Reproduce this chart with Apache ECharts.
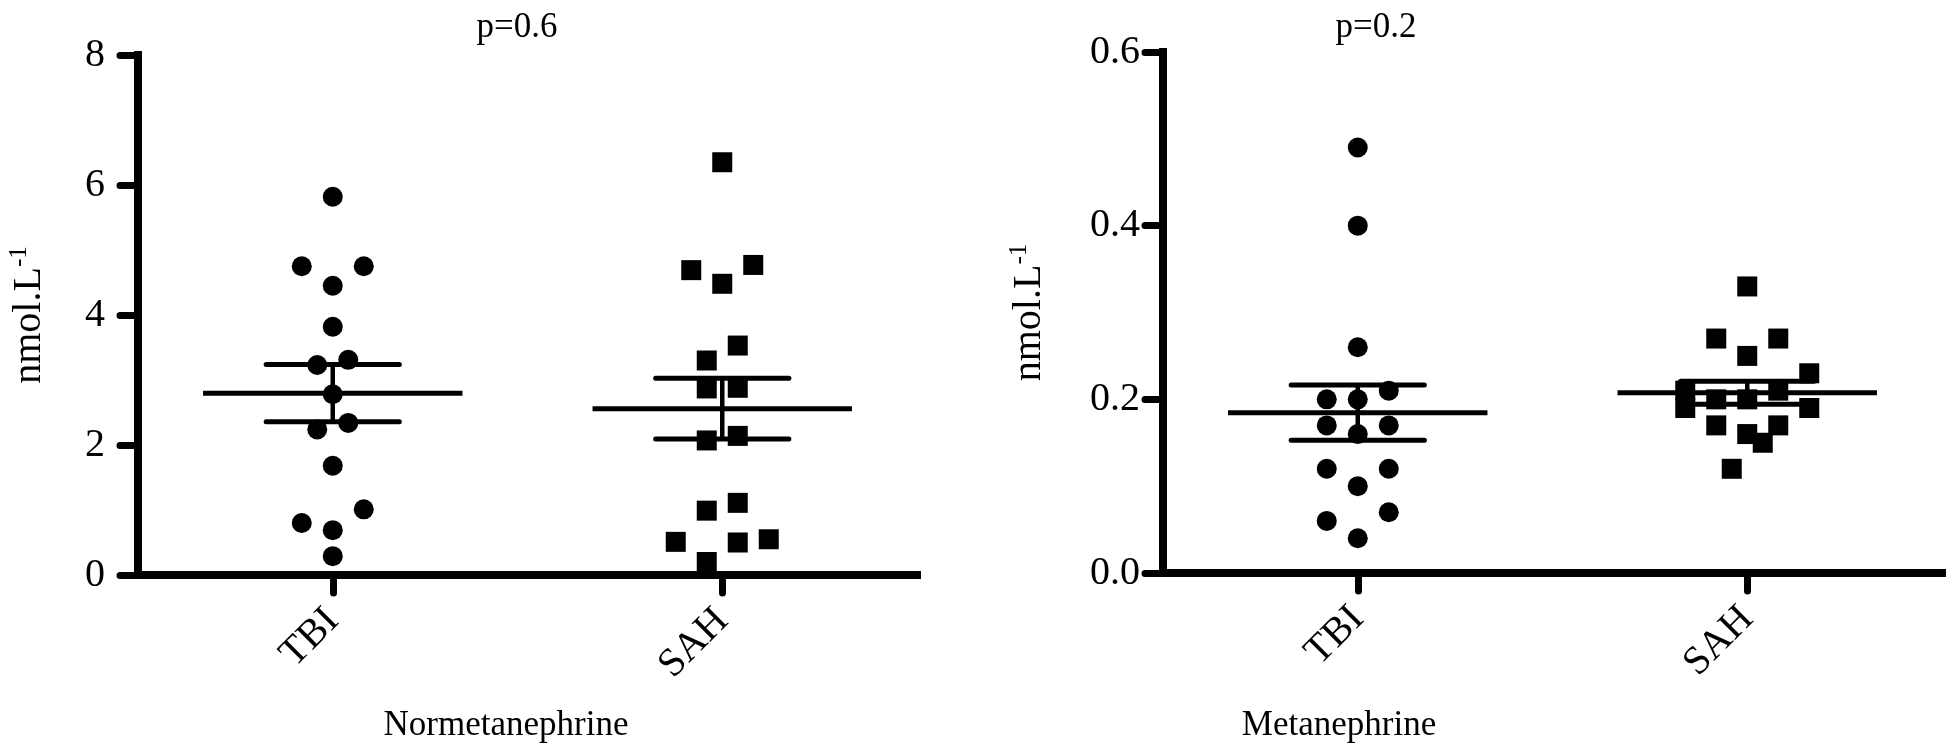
<!DOCTYPE html>
<html>
<head>
<meta charset="utf-8">
<script src="https://cdn.jsdelivr.net/npm/echarts@6/dist/echarts.min.js"></script>
<style>
html,body{margin:0;padding:0;background:#fff;}
#chart{width:1946px;height:752px;}
</style>
</head>
<body>
<div id="chart"></div>
<script>
// ---------- data ----------
const groups = ['TBI', 'SAH'];
const normetanephrineTBI = [5.82, 4.75, 4.75, 4.45, 3.82, 3.31, 3.23, 2.78, 2.34, 2.24, 1.68, 1.01, 0.80, 0.69, 0.29];
const normetanephrineSAH = [6.35, 4.77, 4.69, 4.48, 3.53, 3.30, 2.88, 2.87, 2.14, 2.07, 1.11, 0.99, 0.55, 0.51, 0.50, 0.20];
const metanephrineTBI = [0.49, 0.40, 0.26, 0.21, 0.20, 0.20, 0.17, 0.17, 0.16, 0.12, 0.12, 0.10, 0.07, 0.06, 0.04];
const metanephrineSAH = [0.33, 0.27, 0.27, 0.25, 0.23, 0.21, 0.21, 0.20, 0.20, 0.19, 0.19, 0.17, 0.17, 0.16, 0.15, 0.12];
const normAxisMax = 8, normAxisStep = 2;
const metaAxisMax = 0.6, metaAxisStep = 0.2;
const pValues = ['p=0.6', 'p=0.2'];
const panelNames = ['Normetanephrine', 'Metanephrine'];
const unitLabel = 'nmol.L';
const unitExp = '-1';

// ---------- helpers ----------
const FONT = "'Liberation Serif', 'Times New Roman', serif";
const SYM = 20;

function stats(v) {
  const n = v.length;
  const m = v.reduce((a, b) => a + b, 0) / n;
  const sd = Math.sqrt(v.reduce((a, b) => a + (b - m) * (b - m), 0) / (n - 1));
  const se = sd / Math.sqrt(n);
  return [m, m - se, m + se];
}

// Prism-like column scatter: group nearby values into rows and spread each row symmetrically
function swarmOffsets(values, pxPerUnit) {
  const order = values.map((v, i) => i).sort((a, b) => values[b] - values[a]);
  const off = new Array(values.length).fill(0);
  const rowH = SYM * 1.35, step = SYM * 1.55;
  let i = 0;
  while (i < order.length) {
    const start = values[order[i]] * pxPerUnit;
    let j = i;
    while (j < order.length && start - values[order[j]] * pxPerUnit <= rowH + 1e-6) j++;
    const row = order.slice(i, j).sort((a, b) => values[a] - values[b]);
    const n = row.length;
    const slots = [];
    for (let k = 0; k < n; k++) slots.push(k - (n - 1) / 2);
    slots.sort((a, b) => Math.abs(a) - Math.abs(b) || a - b);
    row.forEach((r, k) => { off[r] = slots[k] * step; });
    i = j;
  }
  return off;
}

const grids = [
  { left: 138, right: 1946 - 917, top: 55, bottom: 752 - 575 },
  { left: 1163, right: 1946 - 1942, top: 52, bottom: 752 - 573 }
];
const panels = [
  { tbi: normetanephrineTBI, sah: normetanephrineSAH, max: normAxisMax, step: normAxisStep, dec: 0,
    labelMargin: 33, nameGap: 87, titleX: 512, nameX: 501 },
  { tbi: metanephrineTBI, sah: metanephrineSAH, max: metaAxisMax, step: metaAxisStep, dec: 1,
    labelMargin: 23, nameGap: 112, titleX: 1371, nameX: 1334 }
];

const xAxes = [], yAxes = [], series = [], titles = [];
panels.forEach((p, g) => {
  const gridH = 752 - grids[g].top - grids[g].bottom;
  const pxPerUnit = gridH / p.max;

  xAxes.push({
    type: 'category', gridIndex: g, data: groups, boundaryGap: true,
    axisLine: { show: true, lineStyle: { color: '#000', width: 8, cap: 'square' } },
    axisTick: { show: true, alignWithLabel: true, length: 18, interval: 0, lineStyle: { color: '#000', width: 7, cap: 'round' } },
    axisLabel: { rotate: 45, interval: 0, margin: 40, fontSize: 40, fontFamily: FONT, color: '#000' },
    splitLine: { show: false }
  });
  yAxes.push({
    type: 'value', gridIndex: g, min: 0, max: p.max, interval: p.step,
    axisLine: { show: true, lineStyle: { color: '#000', width: 8, cap: 'square' } },
    axisTick: { show: true, length: 18, lineStyle: { color: '#000', width: 7, cap: 'round' } },
    axisLabel: { margin: p.labelMargin, fontSize: 40, fontFamily: FONT, color: '#000',
      formatter: v => v.toFixed(p.dec) },
    splitLine: { show: false },
    name: '{a|' + unitLabel + '}{b|' + unitExp + '}',
    nameLocation: 'middle', nameRotate: 90, nameGap: p.nameGap,
    nameTextStyle: {
      rich: {
        a: { fontSize: 40, fontFamily: FONT, color: '#000', lineHeight: 44 },
        b: { fontSize: 25, fontFamily: FONT, color: '#000', verticalAlign: 'top', lineHeight: 44 }
      }
    }
  });

  [p.tbi, p.sah].forEach((vals, ci) => {
    const offs = swarmOffsets(vals, pxPerUnit);
    series.push({
      type: 'scatter', xAxisIndex: g, yAxisIndex: g,
      symbol: ci === 0 ? 'circle' : 'rect', symbolSize: SYM,
      itemStyle: { color: '#000', opacity: 1 },
      silent: true,
      data: vals.map((v, i) => ({ value: [ci, v], symbolOffset: [offs[i], 0] }))
    });
  });

  series.push({
    type: 'custom', xAxisIndex: g, yAxisIndex: g, silent: true, z: 5,
    data: [p.tbi, p.sah].map((vals, ci) => [ci].concat(stats(vals))),
    encode: { x: 0, y: 1 },
    renderItem: (params, api) => {
      const c = api.value(0);
      const pm = api.coord([c, api.value(1)]);
      const plo = api.coord([c, api.value(2)]);
      const phi = api.coord([c, api.value(3)]);
      const band = api.size([1, 0])[0];
      const mh = band * 0.333, ch = band * 0.171;
      const st = { stroke: '#000', lineWidth: 5, lineCap: 'round' };
      return {
        type: 'group',
        children: [
          { type: 'line', shape: { x1: pm[0] - mh, y1: pm[1], x2: pm[0] + mh, y2: pm[1] }, style: { stroke: '#000', lineWidth: 5, lineCap: 'butt' } },
          { type: 'line', shape: { x1: plo[0] - ch, y1: plo[1], x2: plo[0] + ch, y2: plo[1] }, style: st },
          { type: 'line', shape: { x1: phi[0] - ch, y1: phi[1], x2: phi[0] + ch, y2: phi[1] }, style: st },
          { type: 'line', shape: { x1: pm[0], y1: plo[1], x2: pm[0], y2: phi[1] }, style: { stroke: '#000', lineWidth: 4.5 } }
        ]
      };
    }
  });

  titles.push({
    text: pValues[g], left: p.titleX, top: 5, textAlign: 'center',
    textStyle: { fontSize: 35, fontFamily: FONT, color: '#000', fontWeight: 'normal' }
  });
  titles.push({
    text: panelNames[g], left: p.nameX, top: 703, textAlign: 'center',
    textStyle: { fontSize: 35, fontFamily: FONT, color: '#000', fontWeight: 'normal' }
  });
});

const chart = echarts.init(document.getElementById('chart'), null, { renderer: 'canvas' });
chart.setOption({
  backgroundColor: '#fff',
  animation: false,
  title: titles,
  grid: grids,
  xAxis: xAxes,
  yAxis: yAxes,
  series: series
});
</script>
</body>
</html>
